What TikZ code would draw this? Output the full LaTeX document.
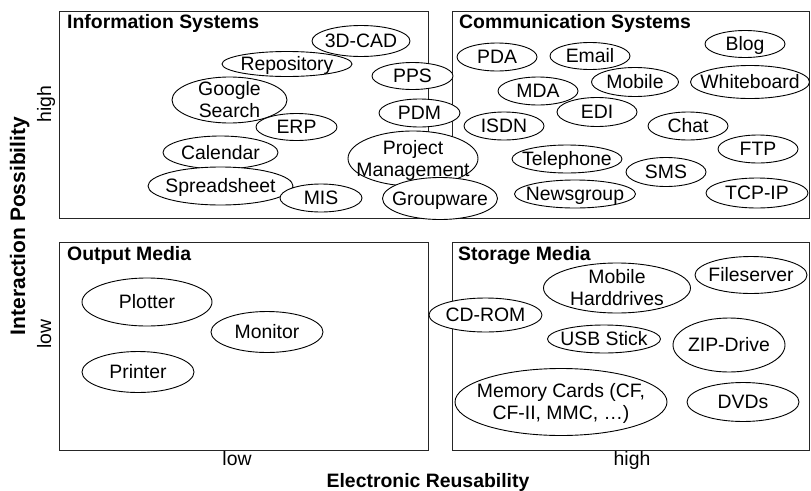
\documentclass[tikz,border=0pt]{standalone}
\usepackage{fontspec}
\setmainfont{Liberation Sans}
\usetikzlibrary{shapes.geometric}
\newcommand\El[6]{%
  \node[elshape, minimum width=#4pt, minimum height=#5pt] (#1) at (#2,#3) {};
  \node[eltext] (#1-t) at ([yshift=-6.95pt]#1.center) {#6};}
\newcommand\Elb[7]{%
  \node[elshape, minimum width=#4pt, minimum height=#5pt] (#1) at (#2,#3) {};
  \node[eltext] (#1-t) at ([yshift=4.05pt]#1.center) {\begin{tabular}[t]{@{}c@{}}#6\\#7\end{tabular}};}
\begin{document}
\begin{tikzpicture}[x=1pt,y=-1pt,
  every node/.style={font=\fontsize{19.4}{22}\selectfont, inner sep=0pt},
  elshape/.style={ellipse, draw=black, fill=white, line width=0.9pt},
  eltext/.style={anchor=base},
  boxst/.style={draw=black!85, line width=1pt},
  title/.style={anchor=base west, font=\fontsize{19.4}{22}\selectfont\bfseries},
  axlab/.style={anchor=base},
  axtitle/.style={anchor=base, font=\fontsize{19.4}{22}\selectfont\bfseries}]
\useasboundingbox (0,0) rectangle (811,490);
% quadrants
\draw[boxst] (59,11) rectangle (428,218);
\draw[boxst] (452,11) rectangle (809,218);
\draw[boxst] (59,242) rectangle (428,450);
\draw[boxst] (452,242) rectangle (809,450);
\node[title] (tinfo) at (67,28) {Information Systems};
\node[title] (tcomm) at (459,28) {Communication Systems};
\node[title] (tout) at (67,260) {Output Media};
\node[title] (tsto) at (458,260) {Storage Media};
% axes
\node[axlab] (xlow) at (237,465) {low};
\node[axlab] (xhigh) at (632,465) {high};
\node[axtitle] (xtitle) at (428,487) {Electronic Reusability};
\node[axlab, rotate=90] (yhigh) at (51,104) {high};
\node[axlab, rotate=90] (ylow) at (51,334) {low};
\node[axtitle, rotate=90, font=\fontsize{21}{24}\selectfont\bfseries] (ytitle) at (25,226) {Interaction Possibility};
% Information Systems
\El{cad}{361}{41}{98}{31}{3D-CAD}
\El{repo}{287}{64}{130}{25}{Repository}
\Elb{google}{229.5}{100}{115}{46}{Google}{Search}
\El{erp}{296.5}{127}{81}{27}{ERP}
\El{cal}{220.5}{152.5}{115}{33}{Calendar}
\El{spread}{220.5}{186}{145}{38}{Spreadsheet}
\El{mis}{321}{198}{82}{28}{MIS}
\El{pps}{412.5}{76}{81}{27}{PPS}
\El{pdm}{419.5}{113}{81}{28}{PDM}
\Elb{pm}{413}{158.5}{130}{55}{Project}{Management}
\El{group}{440}{198.5}{115}{42}{Groupware}
% Communication Systems
\El{pda}{497}{57}{80}{28}{PDA}
\El{email}{590}{56}{80}{27}{Email}
\El{blog}{745}{44}{80}{27}{Blog}
\El{mda}{538}{91}{80}{28}{MDA}
\El{mobile}{635}{82}{87}{29}{Mobile}
\El{white}{750}{82}{119}{33}{Whiteboard}
\El{edi}{597}{112}{80}{29}{EDI}
\El{isdn}{504}{126}{80}{28}{ISDN}
\El{chat}{688}{126}{80}{28}{Chat}
\El{ftp}{758}{149}{80}{28}{FTP}
\El{tel}{567}{159}{110}{28}{Telephone}
\El{sms}{666}{172}{80}{29}{SMS}
\El{news}{575}{194}{121}{28}{Newsgroup}
\El{tcp}{757}{193}{102}{30}{TCP-IP}
% Output Media
\El{plotter}{147}{302}{130}{48}{Plotter}
\El{monitor}{267}{332}{112}{41}{Monitor}
\El{printer}{138}{372}{112}{41}{Printer}
% Storage Media
\El{cdrom}{485.5}{315}{113}{34}{CD-ROM}
\Elb{mhd}{617}{288}{147}{50}{Mobile}{Harddrives}
\El{fileserver}{751}{275}{112}{37}{Fileserver}
\El{usb}{604}{339}{113}{28}{USB Stick}
\El{zip}{729}{345}{112}{54}{ZIP-Drive}
\Elb{mem}{561}{402}{212}{67}{Memory Cards (CF,}{CF-II, MMC, …)}
\El{dvds}{743}{402}{112}{39}{DVDs}
\end{tikzpicture}
\end{document}
